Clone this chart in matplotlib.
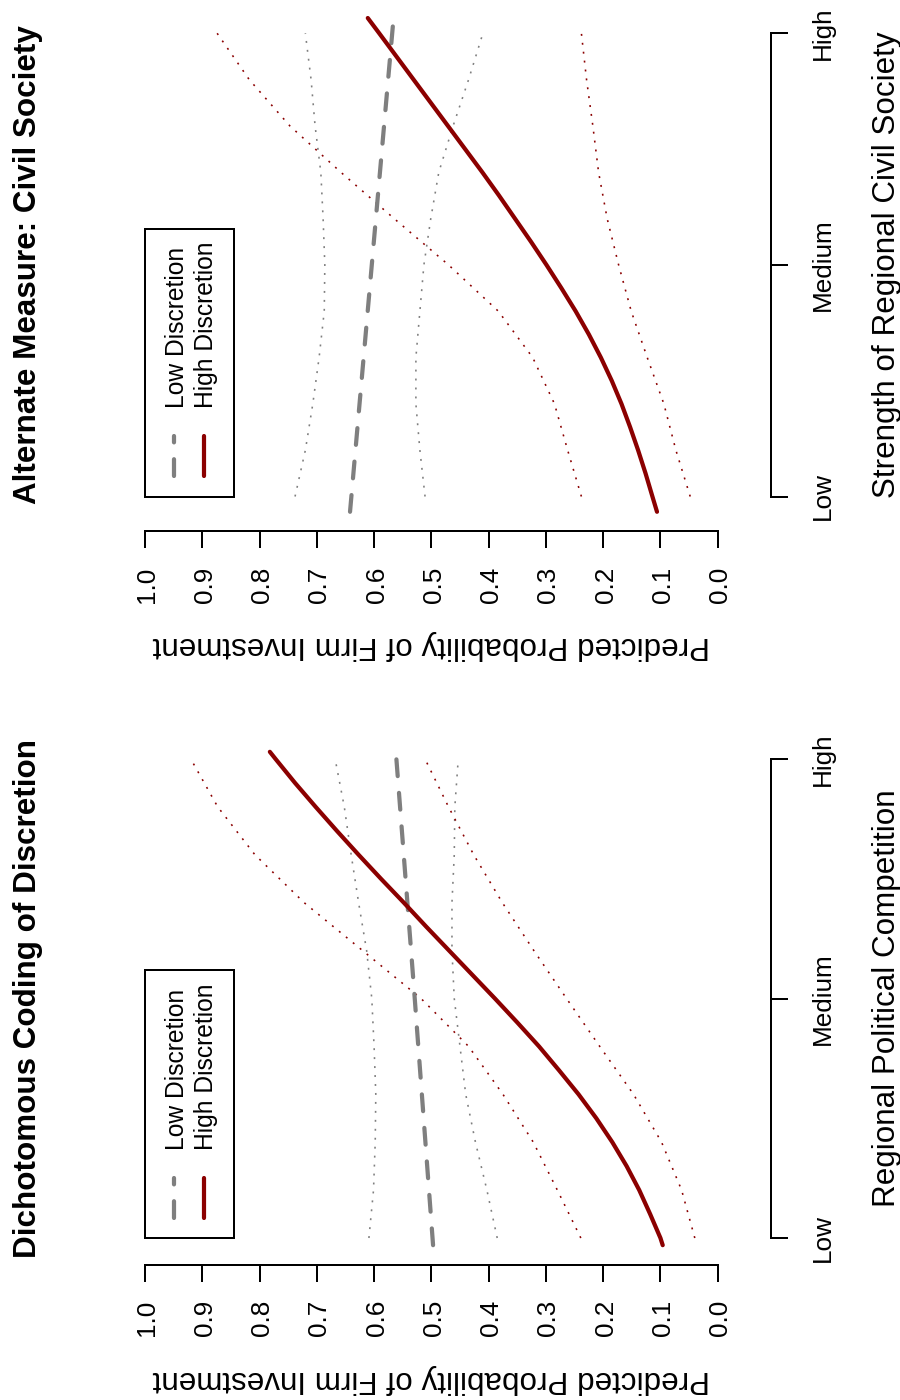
import matplotlib
matplotlib.use("Agg")
import matplotlib.pyplot as plt
from matplotlib.patches import Rectangle
from matplotlib.lines import Line2D

plt.rcParams['font.family'] = ['Liberation Sans', 'DejaVu Sans']

# ---------------- data ----------------
prob_ticks = [0.0, 0.1, 0.2, 0.3, 0.4, 0.5, 0.6, 0.7, 0.8, 0.9, 1.0]
prob_labels = ["0.0", "0.1", "0.2", "0.3", "0.4", "0.5", "0.6", "0.7", "0.8", "0.9", "1.0"]
level_ticks = [0.0, 0.5, 1.0]
level_labels = ["Low", "Medium", "High"]
legend_labels = ["Low Discretion", "High Discretion"]
y_label = "Predicted Probability of Firm Investment"

# ---- Panel A: Dichotomous Coding of Discretion ----
titleA = "Dichotomous Coding of Discretion"
xlabA = "Regional Political Competition"
compA = [0.0, 0.1, 0.2, 0.3, 0.4, 0.5, 0.6, 0.7, 0.8, 0.9, 1.0]
compA_high = [-0.015, 0.0, 0.05, 0.1, 0.15, 0.2, 0.25, 0.3, 0.35, 0.4, 0.45, 0.5,
              0.55, 0.6, 0.65, 0.7, 0.75, 0.8, 0.85, 0.9, 0.95, 1.0, 1.015]
A_high_fit = [0.096, 0.100, 0.118, 0.137, 0.159, 0.184, 0.212, 0.243, 0.277, 0.312, 0.350, 0.389,
              0.429, 0.469, 0.509, 0.548, 0.588, 0.627, 0.665, 0.702, 0.738, 0.772, 0.782]
compA_low = [-0.015, 0.5, 1.015]
A_low_fit = [0.497, 0.529, 0.562]
A_high_upper = [0.239, 0.280, 0.322, 0.375, 0.435, 0.518, 0.620, 0.722, 0.808, 0.873, 0.920]
A_high_lower = [0.040, 0.063, 0.098, 0.147, 0.206, 0.264, 0.321, 0.376, 0.426, 0.470, 0.511]
A_low_upper = [0.609, 0.601, 0.598, 0.597, 0.600, 0.604, 0.613, 0.627, 0.640, 0.652, 0.668]
A_low_lower = [0.385, 0.403, 0.423, 0.440, 0.450, 0.460, 0.464, 0.464, 0.460, 0.459, 0.453]

# ---- Panel B: Alternate Measure: Civil Society ----
titleB = "Alternate Measure: Civil Society"
xlabB = "Strength of Regional Civil Society"
compB = [0.0, 0.1, 0.2, 0.3, 0.4, 0.5, 0.6, 0.7, 0.8, 0.9, 1.0]
compB_high = [-0.033, 0.0, 0.05, 0.1, 0.15, 0.2, 0.25, 0.3, 0.35, 0.4, 0.45, 0.5,
              0.55, 0.6, 0.65, 0.7, 0.75, 0.8, 0.85, 0.9, 0.95, 1.0, 1.033]
B_high_fit = [0.106, 0.114, 0.126, 0.139, 0.153, 0.168, 0.185, 0.204, 0.225, 0.248, 0.273, 0.299,
              0.326, 0.354, 0.382, 0.411, 0.441, 0.471, 0.501, 0.531, 0.561, 0.591, 0.611]
compB_low = [-0.033, 0.5, 1.033]
B_low_fit = [0.642, 0.604, 0.566]
B_high_upper = [0.238, 0.262, 0.285, 0.323, 0.383, 0.470, 0.565, 0.658, 0.747, 0.818, 0.874]
B_high_lower = [0.048, 0.073, 0.094, 0.123, 0.151, 0.173, 0.193, 0.208, 0.218, 0.229, 0.238]
B_low_upper = [0.738, 0.720, 0.707, 0.696, 0.687, 0.686, 0.689, 0.693, 0.703, 0.710, 0.720]
B_low_lower = [0.511, 0.520, 0.527, 0.527, 0.520, 0.513, 0.501, 0.487, 0.462, 0.435, 0.410]

# ---------------- style / layout (pixels) ----------------
W, H, DPI = 900, 1400, 100
PX = 72.0 / DPI            # points per pixel
RED = "#8B0000"
GRAY = "#7F7F7F"
FS_TICK = 18.8
FS_LAB = 22.6
FS_LEG = 17.7

P1_X, P0_X = 145.0, 717.7   # pixel x of prob 1.0 and 0.0
AX_L, AX_R = 122.1, 740.6
CAT_SPINE_X = 770.7

fig = plt.figure(figsize=(W / DPI, H / DPI), dpi=DPI)
fig.patch.set_facecolor("white")


def fx(X):
    return X / W


def fy(Y):
    return 1.0 - Y / H


def make_panel(y_low, y_high, ax_top, ax_bot, title, xlab, comp, comp_high, comp_low,
               high_fit, low_fit, high_up, high_lo, low_up, low_lo):
    ax = fig.add_axes([fx(AX_L), fy(ax_bot), (AX_R - AX_L) / W, (ax_bot - ax_top) / H])
    unit_p = P0_X - P1_X
    ax.set_xlim((P0_X - AX_L) / unit_p, (P0_X - AX_R) / unit_p)
    unit_c = y_low - y_high
    ax.set_ylim((y_low - ax_bot) / unit_c, (y_low - ax_top) / unit_c)
    ax.set_facecolor("none")

    # lines
    ax.plot(low_fit, comp_low, color=GRAY, lw=4.2 * PX, dashes=(4, 4),
            dash_capstyle="round", solid_capstyle="round", zorder=3)
    ax.plot(high_fit, comp_high, color=RED, lw=4.2 * PX,
            solid_capstyle="round", solid_joinstyle="round", zorder=3)
    for vals, col in [(low_up, GRAY), (low_lo, GRAY), (high_up, RED), (high_lo, RED)]:
        ax.plot(vals, comp, color=col, lw=1.6 * PX, dashes=(1.2, 4.4),
                dash_capstyle="butt", zorder=2)

    # spines
    for s in ["left", "top"]:
        ax.spines[s].set_visible(False)
    ax.spines["bottom"].set_bounds(0, 1)
    ax.spines["bottom"].set_linewidth(2.0 * PX)
    ax.spines["right"].set_position(("outward", (CAT_SPINE_X - AX_R) * PX))
    ax.spines["right"].set_bounds(0, 1)
    ax.spines["right"].set_linewidth(2.0 * PX)

    ax.set_xticks(prob_ticks, prob_labels)
    ax.set_yticks(level_ticks, level_labels)
    ax.yaxis.tick_right()
    ax.tick_params(axis="both", direction="out", length=17 * PX, width=2.0 * PX)
    ax.tick_params(axis="x", pad=18.6 * PX, labelsize=FS_TICK)
    ax.tick_params(axis="y", pad=42.3 * PX, labelsize=FS_TICK)
    for t in ax.xaxis.get_major_ticks():
        lab = t.label1
        lab.set_rotation(90)
        lab.set_rotation_mode("anchor")
        lab.set_ha("right")
        lab.set_va("center_baseline")
    for t in ax.yaxis.get_major_ticks():
        lab = t.label2
        lab.set_rotation(90)
        lab.set_rotation_mode("anchor")
        lab.set_ha("center")
        lab.set_va("baseline")

    # texts
    yc = (ax_top + ax_bot) / 2.0
    fig.text(fx(36.5), fy(yc), title, rotation=90, rotation_mode="anchor",
             ha="center", va="baseline", fontsize=FS_LAB, fontweight="bold")
    fig.text(fx(895), fy(yc), xlab, rotation=90, rotation_mode="anchor",
             ha="center", va="baseline", fontsize=FS_LAB)
    fig.text(fx((P1_X + P0_X) / 2), fy(ax_bot + 106.0), y_label, rotation=180,
             rotation_mode="anchor", ha="center", va="baseline", fontsize=FS_LAB)

    # legend (rotated, anchored at prob=1.0 / Low)
    bx, by = P1_X, y_low
    fig.add_artist(Rectangle((fx(bx), fy(by)), 89 / W, 268 / H, transform=fig.transFigure,
                             fill=False, lw=2.0 * PX, edgecolor="black"))
    fig.add_artist(Line2D([fx(bx + 29.3)] * 2, [fy(by - 20.5), fy(by - 60.5)],
                          transform=fig.transFigure, color=GRAY, lw=4.2 * PX,
                          dashes=(4, 4), dash_capstyle="round"))
    fig.add_artist(Line2D([fx(bx + 59.0)] * 2, [fy(by - 20.5), fy(by - 60.5)],
                          transform=fig.transFigure, color=RED, lw=4.2 * PX,
                          solid_capstyle="round"))
    fig.text(fx(bx + 39.5), fy(by - 88.5), legend_labels[0], rotation=90,
             rotation_mode="anchor", ha="left", va="baseline", fontsize=FS_LEG)
    fig.text(fx(bx + 68.5), fy(by - 88.5), legend_labels[1], rotation=90,
             rotation_mode="anchor", ha="left", va="baseline", fontsize=FS_LEG)
    return ax


make_panel(496.5, 33.3, -1.2, 530.7, titleB, xlabB, compB, compB_high, compB_low,
           B_high_fit, B_low_fit, B_high_upper, B_high_lower, B_low_upper, B_low_lower)
make_panel(1238.0, 759.0, 732.0, 1264.5, titleA, xlabA, compA, compA_high, compA_low,
           A_high_fit, A_low_fit, A_high_upper, A_high_lower, A_low_upper, A_low_lower)

fig.savefig("out.png", dpi=DPI, facecolor="white")
